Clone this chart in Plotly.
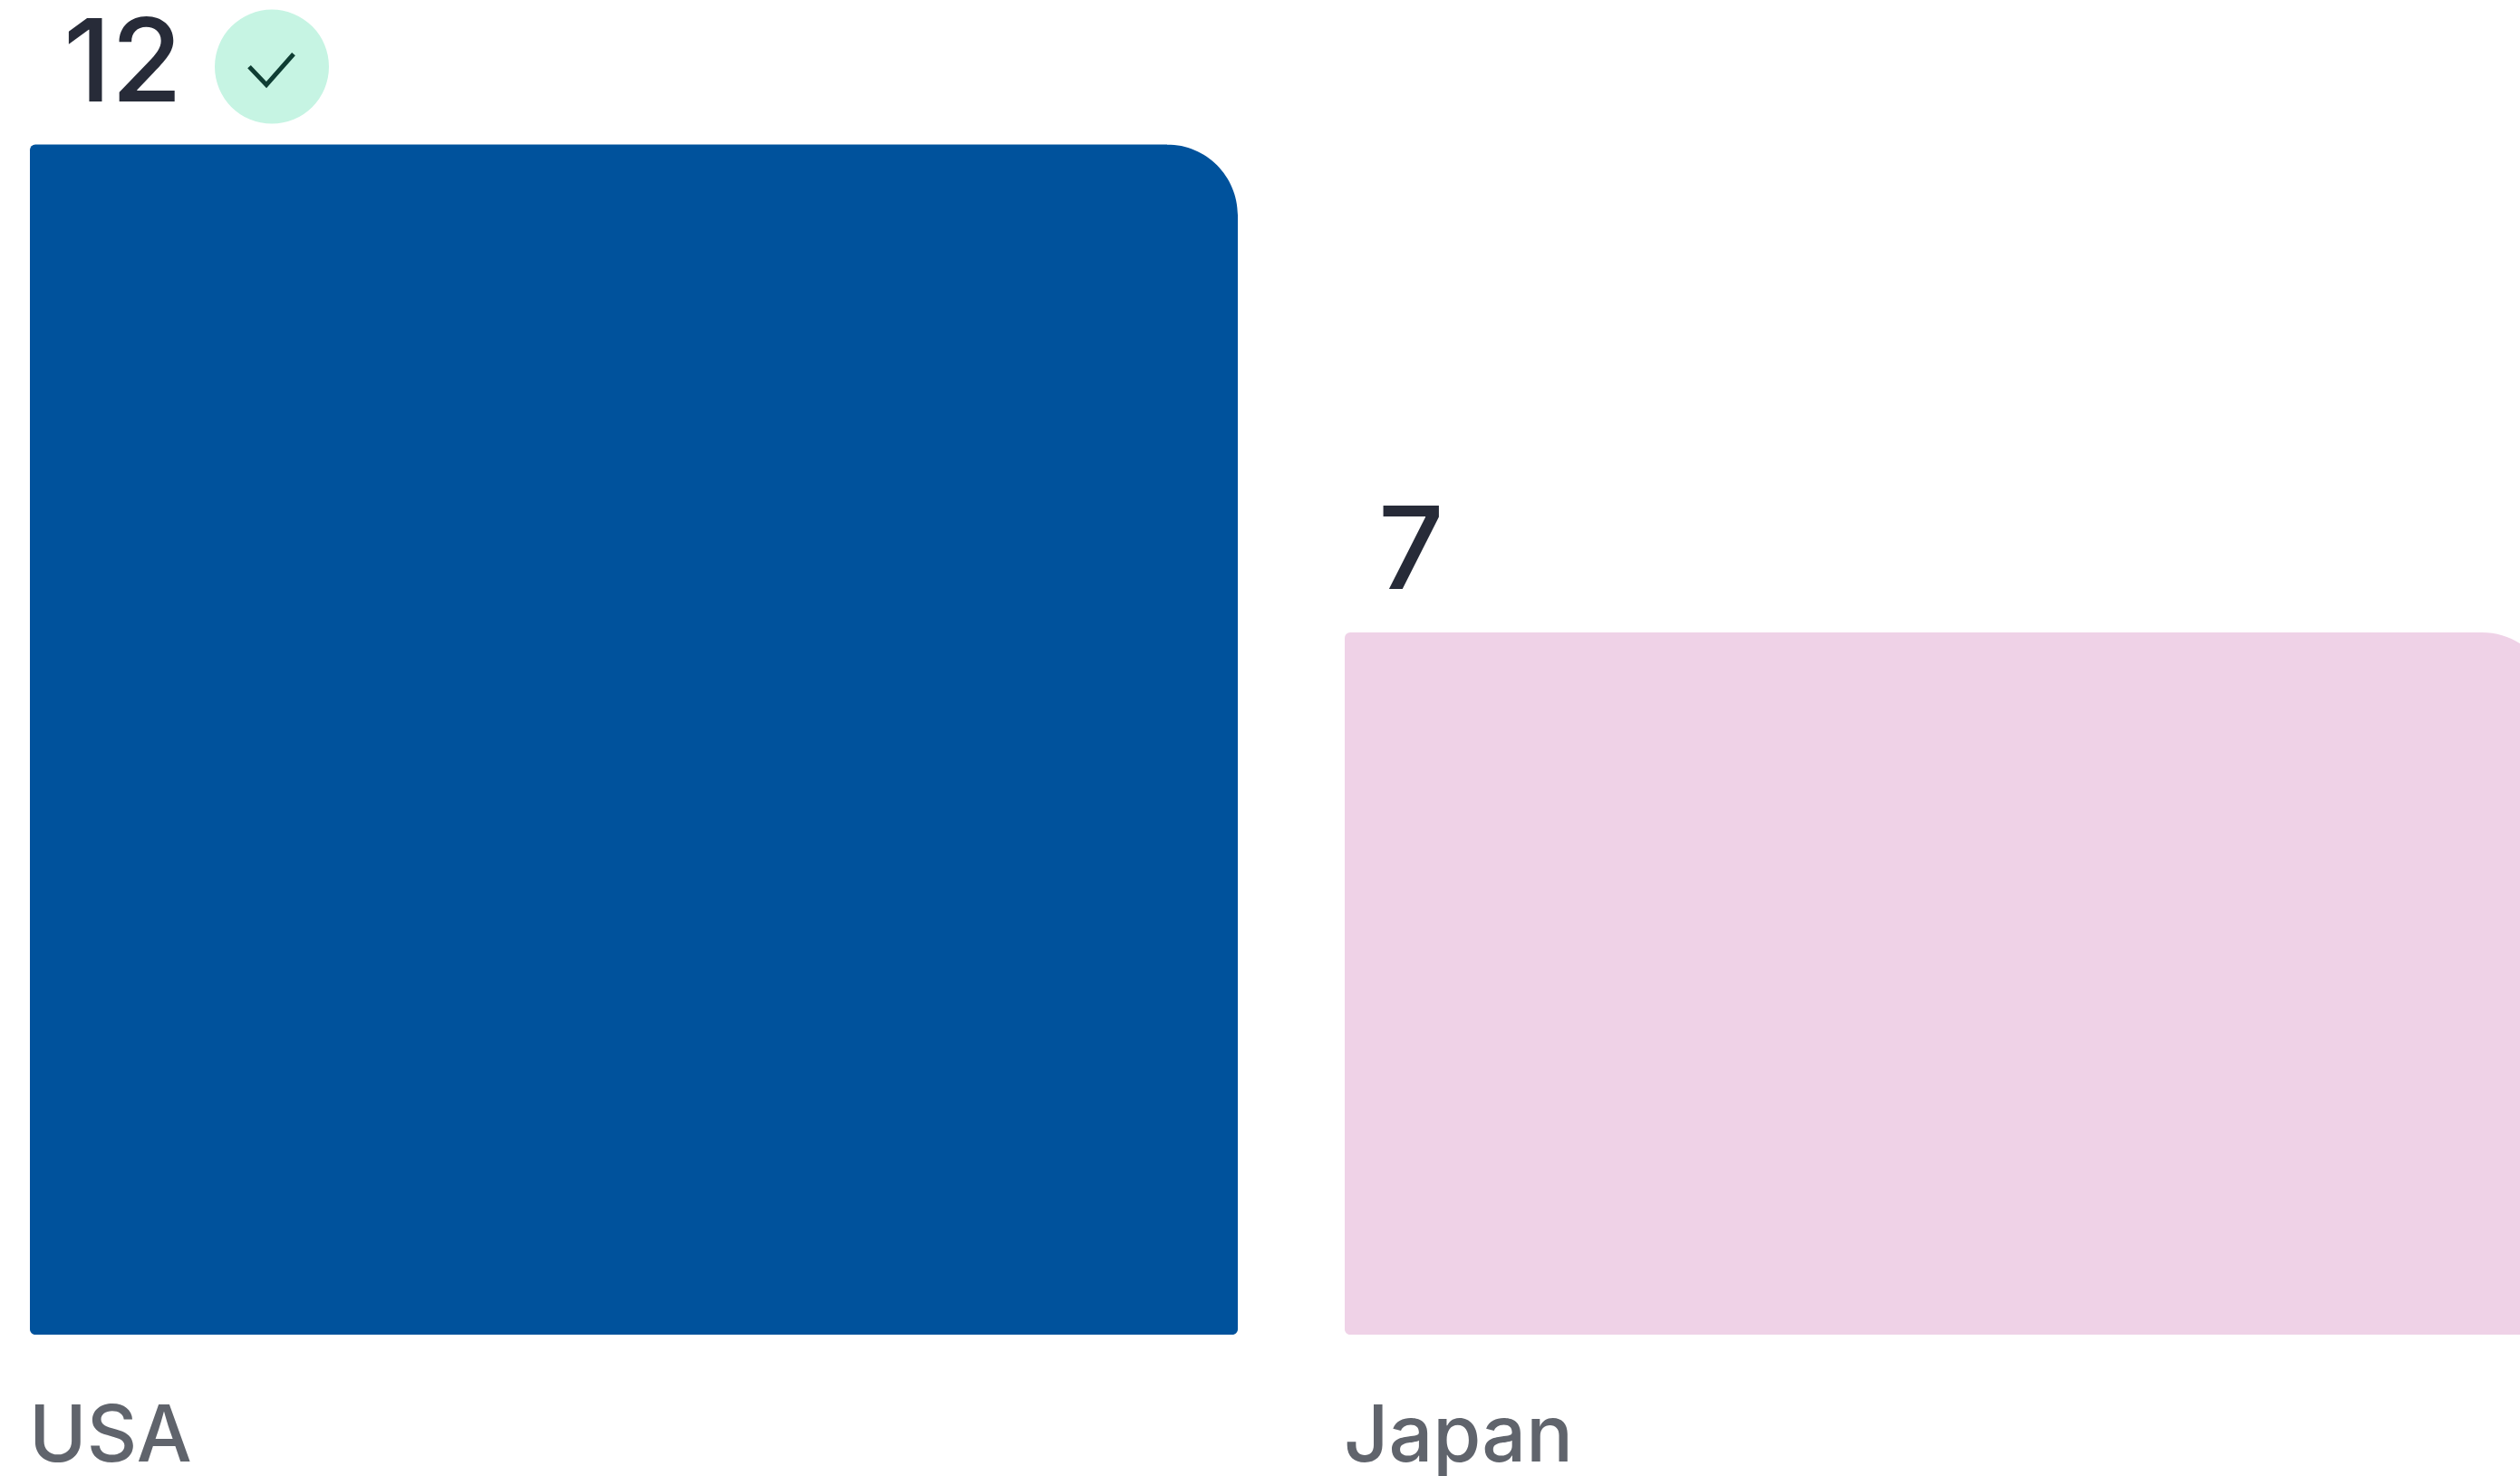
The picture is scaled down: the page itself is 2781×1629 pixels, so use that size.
import plotly.graph_objects as go

# Chart data
categories = ["USA", "Japan"]
values = [12, 7]
bar_colors = ["#00529C", "#EFD2E7"]
best_value = 12

# Canvas and scale, in pixels
W, H = 2781, 1629
PITCH = 1451.0          # distance between category centres
BAR_W = 1333.0          # bar width
X0_PX = 699.5           # centre of first category
UNIT = 107.7            # pixels per value unit
ZERO_PX = 1452.0        # pixel row of value 0
FLOOR_PX = 1473.0       # bottom edge of the bars
TOP_R, SMALL_R = 78, 6  # corner radii
K = 0.5523              # cubic approximation of a quarter circle

x_range = [-X0_PX / PITCH, (W - X0_PX) / PITCH]
y_range = [(ZERO_PX - H) / UNIT, ZERO_PX / UNIT]
half = BAR_W / PITCH / 2
floor_value = (ZERO_PX - FLOOR_PX) / UNIT

fig = go.Figure(
    go.Bar(
        x=list(range(len(categories))),
        y=values,
        width=BAR_W / PITCH,
        marker=dict(color=bar_colors, line=dict(width=0), cornerradius=SMALL_R),
        hovertext=categories,
        hoverinfo="text+y",
    )
)


def corner_mask(x, y, r, sx, sy):
    """White wedge that trims a bar corner; sx/sy point out of the bar."""
    c = r * (1 - K)
    pad = 2
    path = (
        f"M {-sx * r} {sy * pad} L {sx * pad} {sy * pad} L {sx * pad} {-sy * r} L 0 {-sy * r} "
        f"C 0 {-sy * c} {-sx * c} 0 {-sx * r} 0 Z"
    )
    return dict(
        type="path", path=path, xref="x", yref="y",
        xsizemode="pixel", ysizemode="pixel", xanchor=x, yanchor=y,
        fillcolor="#FFFFFF", line=dict(width=0), layer="above",
    )


shapes = []
annotations = []
for i, (name, val, col) in enumerate(zip(categories, values, bar_colors)):
    left, right = i - half, i + half
    # Bars sit on a short footing that runs below the value axis zero
    shapes.append(dict(type="rect", xref="x", yref="y", x0=left, x1=right,
                       y0=floor_value, y1=0, fillcolor=col, line=dict(width=0),
                       layer="below"))
    shapes.append(corner_mask(right, val, TOP_R, 1, 1))
    shapes.append(corner_mask(left, floor_value, SMALL_R, -1, -1))
    shapes.append(corner_mask(right, floor_value, SMALL_R, 1, -1))

    annotations.append(dict(
        text=str(val), x=left, y=val, xref="x", yref="y",
        xanchor="left", yanchor="bottom", xshift=36, yshift=16,
        showarrow=False, borderpad=0,
        font=dict(family="Inter", size=127, weight=500, color="#272B38"),
    ))
    annotations.append(dict(
        text=name, x=left, y=floor_value, xref="x", yref="y",
        xanchor="left", yanchor="top", xshift=-2, yshift=-56,
        showarrow=False, borderpad=0,
        font=dict(family="Inter", size=86, weight=500, color="#60646C"),
    ))

# Badge marking the highest value
best = values.index(best_value)
badge_x, badge_y = best - half, best_value
BADGE_DX, BADGE_DY = 267, 86  # badge centre relative to the bar's top-left corner
shapes.append(dict(
    type="circle", xref="x", yref="y", xsizemode="pixel", ysizemode="pixel",
    xanchor=badge_x, yanchor=badge_y,
    x0=BADGE_DX - 63, x1=BADGE_DX + 63, y0=BADGE_DY - 63, y1=BADGE_DY + 63,
    fillcolor="#C6F4E3", line=dict(width=0), layer="above",
))
shapes.append(dict(
    type="path", xref="x", yref="y", xsizemode="pixel", ysizemode="pixel",
    xanchor=badge_x, yanchor=badge_y,
    path=f"M {BADGE_DX - 25} {BADGE_DY} L {BADGE_DX - 6} {BADGE_DY - 20} "
         f"L {BADGE_DX + 24} {BADGE_DY + 14}",
    fillcolor="rgba(0,0,0,0)", line=dict(color="#0F3D33", width=5), layer="above",
))

fig.update_layout(
    width=W, height=H,
    margin=dict(l=0, r=0, t=0, b=0),
    paper_bgcolor="#FFFFFF", plot_bgcolor="#FFFFFF",
    showlegend=False,
    shapes=shapes,
    annotations=annotations,
    xaxis=dict(range=x_range, visible=False, fixedrange=True),
    yaxis=dict(range=y_range, visible=False, fixedrange=True),
)

fig.write_html("out.html", config={"displayModeBar": False})
